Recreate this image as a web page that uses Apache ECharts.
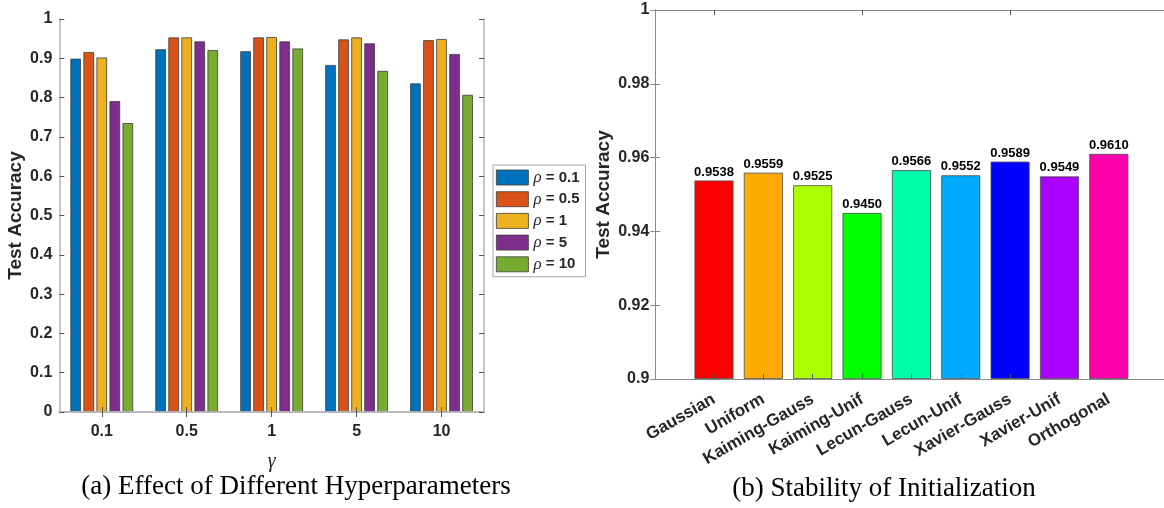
<!DOCTYPE html>
<html>
<head>
<meta charset="utf-8">
<script src="https://cdn.jsdelivr.net/npm/echarts@6/dist/echarts.min.js"></script>
<style>
html,body{margin:0;padding:0;background:#fff;}
#chart{width:1164px;height:508px;}
</style>
</head>
<body>
<div id="chart"></div>
<script>
// ---- Data: panel (a) ----
const gammaCategories = ['0.1', '0.5', '1', '5', '10'];
const rhoNames = ['ρ = 0.1', 'ρ = 0.5', 'ρ = 1', 'ρ = 5', 'ρ = 10'];
const rho01 = [0.899, 0.923, 0.918, 0.883, 0.836];
const rho05 = [0.916, 0.953, 0.953, 0.948, 0.946];
const rho1  = [0.902, 0.953, 0.954, 0.953, 0.949];
const rho5  = [0.791, 0.943, 0.943, 0.938, 0.911];
const rho10 = [0.735, 0.921, 0.925, 0.868, 0.807];
const leftYTicks = [0, 0.1, 0.2, 0.3, 0.4, 0.5, 0.6, 0.7, 0.8, 0.9, 1];

// ---- Data: panel (b) ----
const initNames = ['Gaussian', 'Uniform', 'Kaiming-Gauss', 'Kaiming-Unif', 'Lecun-Gauss', 'Lecun-Unif', 'Xavier-Gauss', 'Xavier-Unif', 'Orthogonal'];
const initAcc = [0.9538, 0.9559, 0.9525, 0.9450, 0.9566, 0.9552, 0.9589, 0.9549, 0.9610];
const rightYTicks = [0.9, 0.92, 0.94, 0.96, 0.98, 1];

// ---- Styles ----
const leftColors = ['#0072BD', '#D95319', '#EDB120', '#7E2F8E', '#77AC30'];
const rightColors = ['#FF0000', '#FFAA00', '#AAFF00', '#00FF00', '#00FFAA', '#00AAFF', '#0000FF', '#AA00FF', '#FF00AA'];
const txt = '#262626';
const sans = '"Liberation Sans", Arial, sans-serif';
const serif = '"Liberation Serif", "Times New Roman", serif';
const leftFrame = '#b4b4b4';
const rightFrame = '#8a8a8a';

const chart = echarts.init(document.getElementById('chart'), null, {renderer: 'canvas'});

const leftSeriesData = [rho01, rho05, rho1, rho5, rho10];
const leftSeries = leftSeriesData.map((arr, i) => ({
  type: 'bar',
  name: rhoNames[i],
  xAxisIndex: 0,
  yAxisIndex: 0,
  data: arr,
  barWidth: 10.6,
  barGap: '23%',
  itemStyle: {color: leftColors[i], borderColor: '#3c3c3c', borderWidth: 0.8},
  emphasis: {disabled: true}
}));

const rightSeries = {
  type: 'bar',
  name: 'init',
  xAxisIndex: 4,
  yAxisIndex: 4,
  data: initAcc,
  barWidth: 39,
  itemStyle: {
    color: p => rightColors[p.dataIndex],
    borderColor: '#4a4a4a',
    borderWidth: 0.8
  },
  label: {
    show: true,
    position: 'top',
    distance: 2,
    formatter: p => p.value.toFixed(4),
    fontFamily: sans,
    fontWeight: 'bold',
    fontSize: 13,
    color: '#000'
  },
  emphasis: {disabled: true}
};

const fmtTick = (ticks, d) => v => {
  const t = ticks.find(x => Math.abs(x - v) < 1e-9);
  return t === undefined ? '' : String(+t.toFixed(d));
};

const option = {
  animation: false,
  backgroundColor: '#fff',
  grid: [
    {left: 59.3, top: 19, width: 424.7, height: 393},
    {left: 655.3, top: 10, width: 512.5, height: 369},
    {left: 689.3, top: 10, width: 444.2, height: 369}
  ],
  legend: {
    data: rhoNames,
    left: 493,
    top: 165,
    orient: 'vertical',
    icon: 'rect',
    itemWidth: 32,
    itemHeight: 15,
    itemGap: 4.7,
    padding: [4, 6, 4, 3],
    borderColor: '#a6a6a6',
    borderWidth: 1,
    backgroundColor: '#fff',
    selectedMode: false,
    itemStyle: {borderColor: '#3c3c3c', borderWidth: 0.8},
    formatter: name => '{r|ρ}{b| = ' + name.split('= ')[1] + '}',
    textStyle: {
      lineHeight: 15,
      rich: {
        r: {fontFamily: serif, fontStyle: 'italic', fontSize: 17, color: txt, lineHeight: 15},
        b: {fontFamily: sans, fontWeight: 'bold', fontSize: 15, color: txt, lineHeight: 15}
      }
    }
  },
  xAxis: [
    { // 0 left bottom
      type: 'category', gridIndex: 0, data: gammaCategories, position: 'bottom', z: 5,
      axisLine: {show: true, lineStyle: {color: leftFrame, width: 1.5}},
      axisTick: {show: true, inside: true, alignWithLabel: true, length: 5, lineStyle: {color: '#555'}},
      axisLabel: {fontFamily: sans, fontWeight: 'bold', fontSize: 16, color: txt, margin: 12},
      splitLine: {show: false},
      name: 'γ', nameLocation: 'middle', nameGap: 40,
      nameTextStyle: {fontFamily: serif, fontStyle: 'italic', fontSize: 20, color: txt}
    },
    { // 1 left top
      type: 'category', gridIndex: 0, data: gammaCategories, position: 'top', z: 5,
      axisLine: {show: true, lineStyle: {color: leftFrame, width: 1.5}},
      axisTick: {show: true, inside: true, alignWithLabel: true, length: 5, lineStyle: {color: '#555'}},
      axisLabel: {show: false}, splitLine: {show: false}
    },
    { // 2 right frame bottom
      type: 'value', gridIndex: 1, min: 0, max: 1, position: 'bottom', z: 5,
      axisLine: {show: true, onZero: false, lineStyle: {color: rightFrame, width: 1}},
      axisTick: {show: false}, axisLabel: {show: false}, splitLine: {show: false}
    },
    { // 3 right frame top
      type: 'value', gridIndex: 1, min: 0, max: 1, position: 'top', z: 5,
      axisLine: {show: true, onZero: false, lineStyle: {color: rightFrame, width: 1}},
      axisTick: {show: false}, axisLabel: {show: false}, splitLine: {show: false}
    },
    { // 4 right bars bottom
      type: 'category', gridIndex: 2, data: initNames, position: 'bottom', z: 5,
      axisLine: {show: false, onZero: false},
      axisTick: {show: true, inside: true, alignWithLabel: true, length: 5, lineStyle: {color: '#555'}},
      axisLabel: {
        rotate: 30, margin: 19, interval: 0,
        fontFamily: sans, fontWeight: 'bold', fontSize: 17, color: txt
      },
      splitLine: {show: false}
    },
    { // 5 right bars top
      type: 'category', gridIndex: 2, data: initNames, position: 'top', z: 5,
      axisLine: {show: false, onZero: false},
      axisTick: {show: true, inside: true, alignWithLabel: true, length: 5, lineStyle: {color: '#555'}},
      axisLabel: {show: false}, splitLine: {show: false}
    }
  ],
  yAxis: [
    { // 0 left
      type: 'value', gridIndex: 0, min: 0, max: 1, interval: 0.1, position: 'left', z: 5,
      axisLine: {show: true, lineStyle: {color: leftFrame, width: 1.5}},
      axisTick: {show: true, inside: true, length: 5, lineStyle: {color: '#555'}},
      axisLabel: {formatter: fmtTick(leftYTicks, 1), fontFamily: sans, fontWeight: 'bold', fontSize: 16, color: txt, margin: 7},
      splitLine: {show: false},
      name: 'Test Accuracy', nameLocation: 'middle', nameGap: 34,
      nameTextStyle: {fontFamily: sans, fontWeight: 'bold', fontSize: 19, color: txt}
    },
    { // 1 left right-side
      type: 'value', gridIndex: 0, min: 0, max: 1, interval: 0.1, position: 'right', z: 5,
      axisLine: {show: true, lineStyle: {color: leftFrame, width: 1.5}},
      axisTick: {show: true, inside: true, length: 5, lineStyle: {color: '#555'}},
      axisLabel: {show: false}, splitLine: {show: false}
    },
    { // 2 right frame left
      type: 'value', gridIndex: 1, min: 0.9, max: 1, interval: 0.02, position: 'left', z: 5,
      axisLine: {show: true, lineStyle: {color: rightFrame, width: 1}},
      axisTick: {show: true, inside: true, length: 5, lineStyle: {color: rightFrame}},
      axisLabel: {formatter: fmtTick(rightYTicks, 2), fontFamily: sans, fontWeight: 'bold', fontSize: 16, color: txt, margin: 6},
      splitLine: {show: false},
      name: 'Test Accuracy', nameLocation: 'middle', nameGap: 42,
      nameTextStyle: {fontFamily: sans, fontWeight: 'bold', fontSize: 19, color: txt}
    },
    { // 3 right frame right
      type: 'value', gridIndex: 1, min: 0.9, max: 1, interval: 0.02, position: 'right', z: 5,
      axisLine: {show: true, lineStyle: {color: rightFrame, width: 1}},
      axisTick: {show: true, inside: true, length: 5, lineStyle: {color: rightFrame}},
      axisLabel: {show: false}, splitLine: {show: false}
    },
    { // 4 right bars
      type: 'value', gridIndex: 2, min: 0.9, max: 1, startValue: 0.9, show: false,
      splitLine: {show: false}
    }
  ],
  graphic: [
    {type: 'text', x: 296, y: 487, silent: true,
     style: {text: '(a) Effect of Different Hyperparameters', font: '27px ' + serif, fill: '#000', align: 'center', verticalAlign: 'middle'}},
    {type: 'text', x: 884, y: 489, silent: true,
     style: {text: '(b) Stability of Initialization', font: '27px ' + serif, fill: '#000', align: 'center', verticalAlign: 'middle'}}
  ],
  series: [...leftSeries, rightSeries]
};

chart.setOption(option);
</script>
</body>
</html>
